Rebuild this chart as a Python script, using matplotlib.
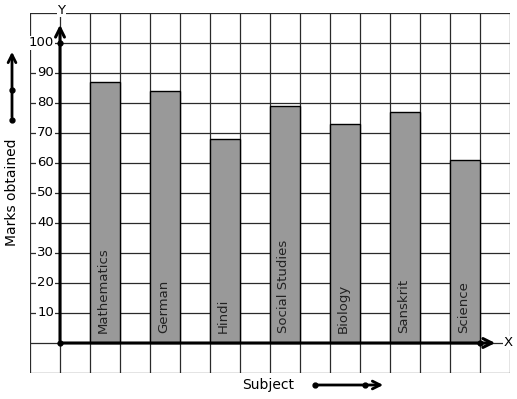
import matplotlib.pyplot as plt
import numpy as np

subjects = ['Mathematics', 'German', 'Hindi', 'Social Studies', 'Biology', 'Sanskrit', 'Science']
marks = [87, 84, 68, 79, 73, 77, 61]
y_ticks = [10, 20, 30, 40, 50, 60, 70, 80, 90, 100]

fig = plt.figure(figsize=(5.17, 3.99), dpi=100)
ax = fig.add_axes([30 / 517, 26 / 399, 480 / 517, 360 / 399])
ax.set_xlim(-1, 15)
ax.set_ylim(-10, 110)
ax.axis('off')

# grid of 30px squares
grid_kw = dict(color='#2a2a2a', lw=0.9, zorder=1)
for gx in np.arange(-1, 16):
    ax.axvline(gx, **grid_kw)
for gy in np.arange(-10, 111, 10):
    ax.axhline(gy, **grid_kw)

# bars
pos = np.arange(len(subjects)) * 2 + 1.5
ax.bar(pos, marks, width=1, color='#999999', edgecolor='black', lw=1, zorder=2)
for x, name in zip(pos, subjects):
    ax.text(x - 0.05, 3.3, name, rotation=90, ha='center', va='bottom',
            fontsize=9.5, color='#222222', zorder=3)

# y tick labels sitting on grid lines
for t in y_ticks:
    ax.text(-0.2, t, str(t), ha='right', va='center', fontsize=9.5, zorder=3,
            bbox=dict(facecolor='white', edgecolor='none', pad=0.6))

# axes with arrows
akw = dict(arrowstyle='->', lw=2.2, color='black', mutation_scale=16)
ax.annotate('', xy=(0, 107), xytext=(0, 0), arrowprops=akw, zorder=4)
ax.annotate('', xy=(14.6, 0), xytext=(0, 0), arrowprops=akw, zorder=4)
ax.plot([0, 0, 14], [100, 0, 0], 'o', color='black', ms=3.5, zorder=5)
ax.text(14.93, 0, 'X', ha='center', va='center', fontsize=9.5, zorder=5,
        bbox=dict(facecolor='white', edgecolor='none', pad=0.3))
ax.text(0.05, 111, 'Y', ha='center', va='center', fontsize=9.5,
        bbox=dict(facecolor='white', edgecolor='none', pad=0.5))

# side label and arrow
fig.text(12 / 517, 207 / 399, 'Marks obtained', rotation=90, ha='center', va='center', fontsize=10)
fkw = dict(arrowstyle='->', lw=2, color='black', mutation_scale=14)
ax.annotate('', xy=(12, 350), xytext=(12, 279), xycoords='figure pixels',
            textcoords='figure pixels', arrowprops=fkw)
fig.add_artist(plt.Line2D([12 / 517, 12 / 517], [279 / 399, 309 / 399], marker='o',
                          ls='none', color='black', ms=3.5))

# bottom label and arrow
fig.text(268 / 517, 14 / 399, 'Subject', ha='center', va='center', fontsize=10)
ax.annotate('', xy=(386, 14), xytext=(315, 14), xycoords='figure pixels',
            textcoords='figure pixels', arrowprops=fkw)
fig.add_artist(plt.Line2D([315 / 517, 365 / 517], [14 / 399, 14 / 399], marker='o',
                          ls='none', color='black', ms=3.5))

fig.savefig('out.png', dpi=100)
